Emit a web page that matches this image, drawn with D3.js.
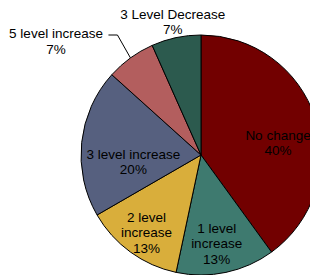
<!DOCTYPE html>
<html>
<head>
<meta charset="utf-8">
<script src="https://cdn.jsdelivr.net/npm/d3@7"></script>
<style>
  body { margin: 0; background: #fff; }
  svg { display: block; font-family: "Liberation Sans", Arial, sans-serif; }
</style>
</head>
<body>
<div id="chart"></div>
<script>
const categories = ["No change", "1 level increase", "2 level increase", "3 level increase", "5 level increase", "3 Level Decrease"];
const counts = [6, 2, 2, 3, 1, 1];
const labelLines = [
  ["No change", "40%"],
  ["1 level", "increase", "13%"],
  ["2 level", "increase", "13%"],
  ["3 level increase", "20%"],
  ["5 level increase", "7%"],
  ["3 Level Decrease", "7%"]
];
const colors = ["#720000", "#3e7a6f", "#d9ae3b", "#56607f", "#b35e5e", "#2c5a4e"];

const width = 310, height = 275;
const cx = 201, cy = 155, radius = 120;

const svg = d3.select("#chart")
  .append("svg")
  .attr("width", width)
  .attr("height", height);

const g = svg.append("g")
  .attr("transform", `translate(${cx}, ${cy})`);

const pie = d3.pie().sort(null).value(d => d);
const arcs = pie(counts);

const arc = d3.arc().innerRadius(0).outerRadius(radius);

g.selectAll("path.slice")
  .data(arcs)
  .join("path")
  .attr("class", "slice")
  .attr("d", arc)
  .attr("fill", (d, i) => colors[i])
  .attr("stroke", "#000")
  .attr("stroke-width", 1);

// label placement: angle shift (deg) and radius per slice, like Excel's best fit
const labelPlace = [
  { shift: 9, r: 78 },
  { shift: 2, r: 90 },
  { shift: -1, r: 95 },
  { shift: -12, r: 68 },
  { shift: -16, r: 184 },
  { shift: 0, r: 136 }
];

const lineH = 15.5;

arcs.forEach((d, i) => {
  const mid = (d.startAngle + d.endAngle) / 2 + labelPlace[i].shift * Math.PI / 180;
  const lx = Math.sin(mid) * labelPlace[i].r;
  const ly = -Math.cos(mid) * labelPlace[i].r;
  const lines = labelLines[i];
  const t = g.append("text")
    .attr("text-anchor", "middle")
    .attr("font-size", "13.5px")
    .attr("fill", "#000");
  lines.forEach((s, j) => {
    t.append("tspan")
      .attr("x", lx)
      .attr("y", ly + (j - (lines.length - 1) / 2) * lineH + 4.5)
      .text(s);
  });
});

// leader line for "5 level increase"
const a5 = arcs[4];
const m5 = (a5.startAngle + a5.endAngle) / 2;
const edge = [Math.sin(m5) * radius, -Math.cos(m5) * radius];
g.append("path")
  .attr("d", d3.line()([edge, [edge[0] - 13, -120], [edge[0] - 22, -120]]))
  .attr("fill", "none")
  .attr("stroke", "#000")
  .attr("stroke-width", 1);
</script>
</body>
</html>
